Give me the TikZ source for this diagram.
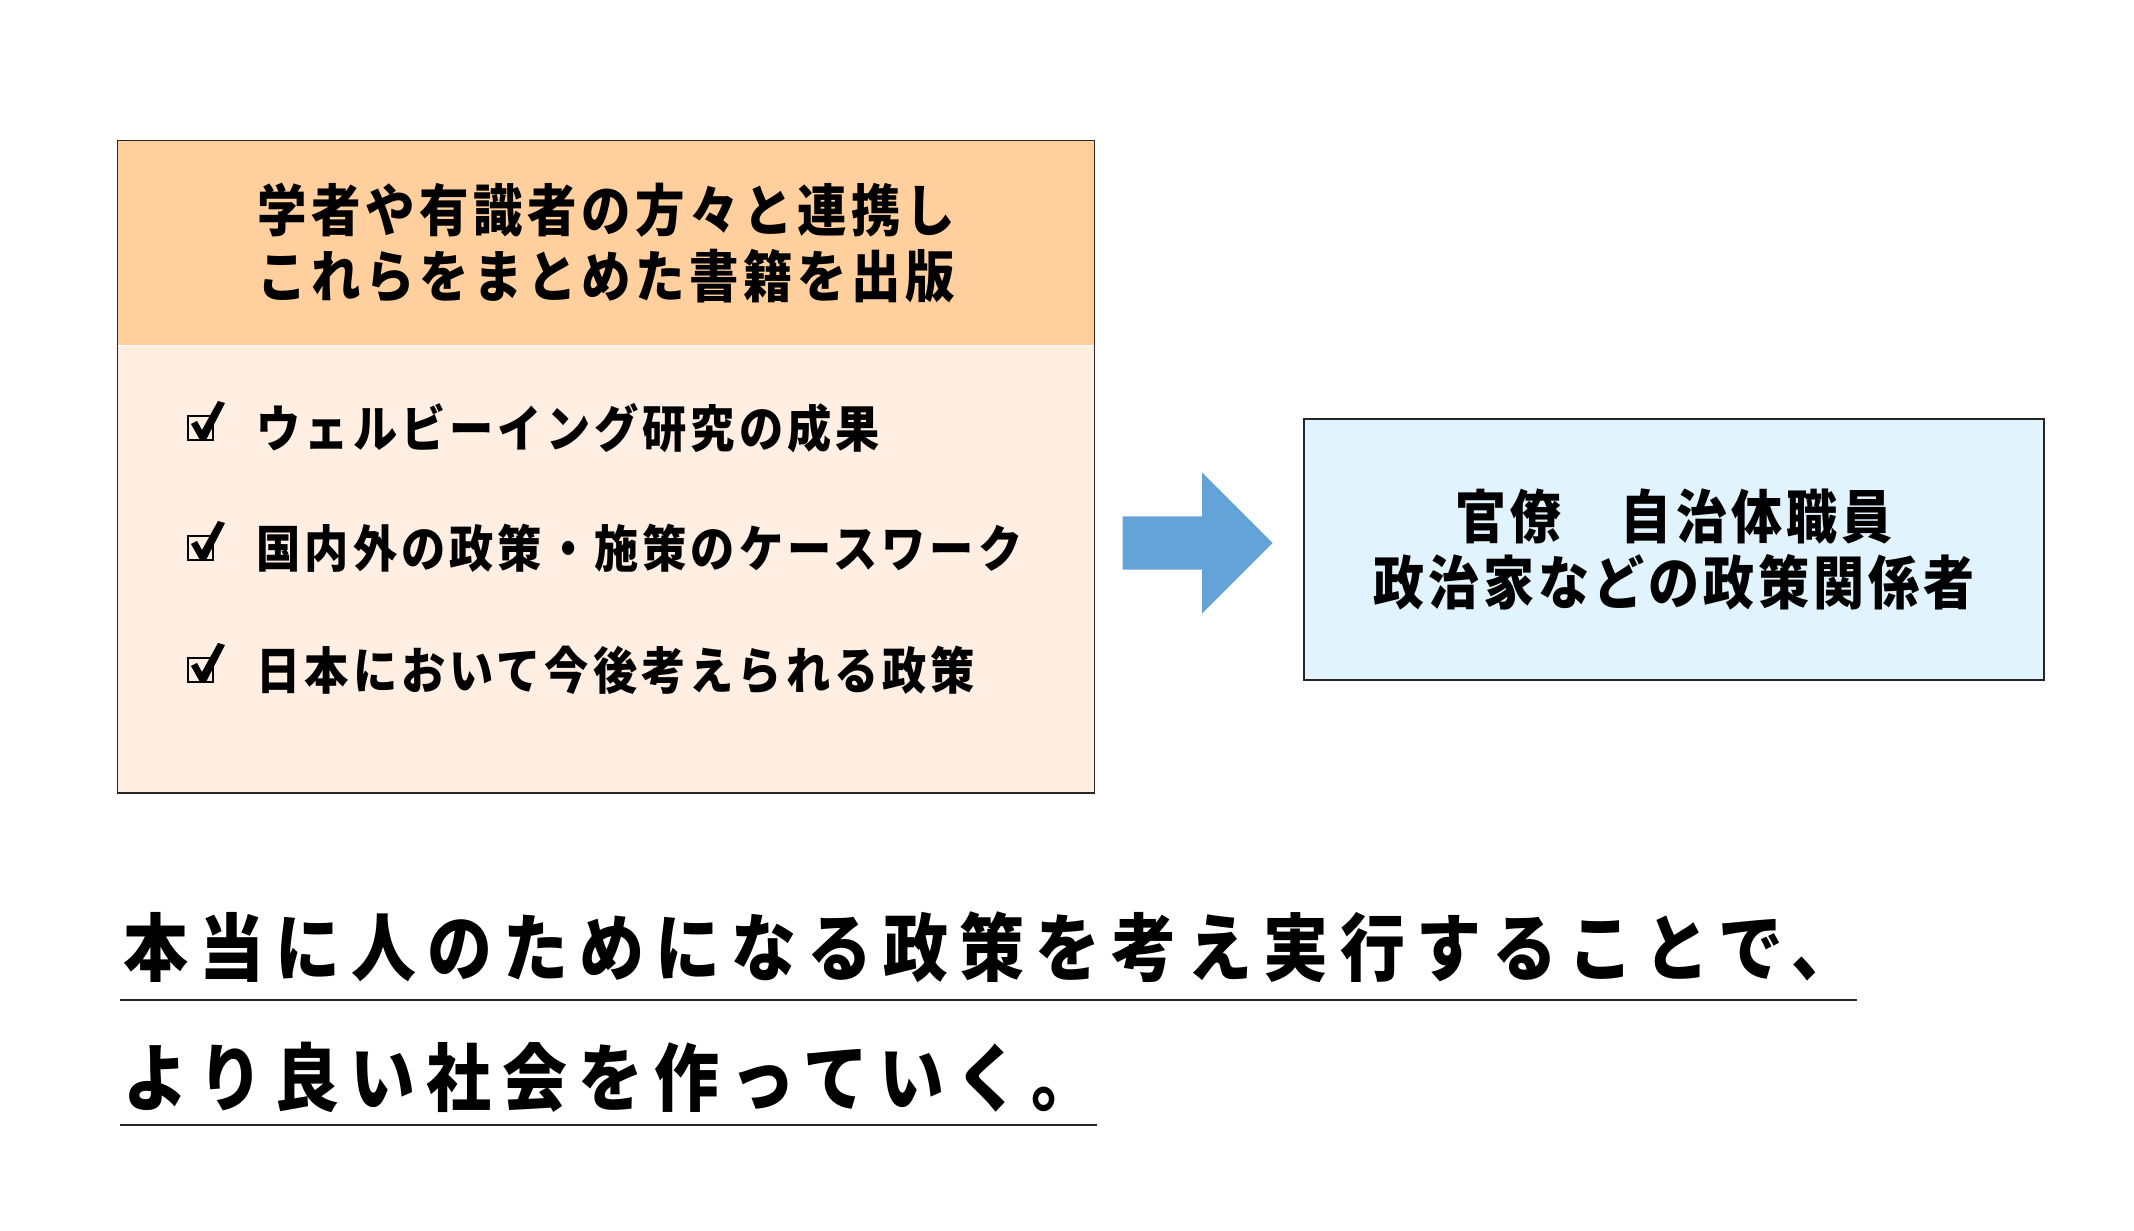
\documentclass[tikz,border=0pt]{standalone}
\usepackage{fontspec}
\newfontfamily\jp{Noto Sans CJK JP}[FakeStretch=0.88]
\usetikzlibrary{positioning,shapes.arrows}

\definecolor{headorange}{HTML}{FFD09E}
\definecolor{bodycream}{HTML}{FFEFE2}
\definecolor{paleblue}{HTML}{E1F3FD}
\definecolor{arrowblue}{HTML}{64A3D7}

\tikzset{
    headbox/.style={fill=headorange, minimum width=9.76cm, minimum height=2.04cm, inner sep=0pt, align=center,
        font=\jp\bfseries\addfontfeature{LetterSpace=8}\fontsize{16pt}{18.8pt}\selectfont},
    bodybox/.style={fill=bodycream, minimum width=9.76cm, minimum height=4.46cm, inner sep=0pt},
    item/.style={anchor=west, inner sep=0pt,
        font=\jp\bfseries\addfontfeature{LetterSpace=8}\fontsize{14.3pt}{16pt}\selectfont},
    stakebox/.style={draw=black!85, fill=paleblue, minimum width=7.40cm, minimum height=2.61cm, align=center,
        font=\jp\bfseries\addfontfeature{LetterSpace=7}\fontsize{16.5pt}{19pt}\selectfont},
    bigarrow/.style={single arrow, fill=arrowblue, anchor=tail, inner xsep=0pt, inner ysep=0.26cm,
        minimum height=1.5cm, single arrow head extend=0.44cm},
    slogan/.style={anchor=west, inner sep=0pt,
        font=\jp\bfseries\addfontfeature{LetterSpace=15}\fontsize{21pt}{24pt}\selectfont},
    uline/.style={line width=0.6pt, black!85},
    checkbox/.pic={
        \draw[line width=0.6pt] (-0.12,-0.12) rectangle (0.13,0.12);
        \fill (-0.09,0.04) -- (-0.03,0.07) -- (0.02,-0.02) -- (0.18,0.27) -- (0.25,0.25) -- (0.06,-0.12) -- (0.00,-0.12) -- cycle;
    }
}

\begin{document}
\begin{tikzpicture}
    \useasboundingbox (0,0) rectangle (21.34,12.30);

    \node[headbox] (head) at (6.06,9.87) {学者や有識者の方々と連携し\\これらをまとめた書籍を出版};
    \node[bodybox, below=0pt of head] (body) {};
    \draw[black!85] (head.north west) rectangle (body.south east);

    \node[item] (wellbeing) at (2.56,8.02) {ウェルビーイング研究の成果};
    \node[item] (casework) at (2.56,6.82) {国内外の政策・施策のケースワーク};
    \node[item] (policy) at (2.56,5.60) {日本において今後考えられる政策};
    \pic at ([xshift=-0.56cm]wellbeing.west) {checkbox};
    \pic at ([xshift=-0.56cm]casework.west) {checkbox};
    \pic at ([xshift=-0.56cm]policy.west) {checkbox};

    \node[bigarrow] (arr) at (11.22,6.87) {};

    \node[stakebox] (stake) at (16.74,6.805) {官僚　自治体職員\\政治家などの政策関係者};

    \node[slogan] (line1) at (1.23,2.83) {本当に人のためになる政策を考え実行することで、};
    \node[slogan] (line2) at (1.23,1.53) {より良い社会を作っていく。};
    \draw[uline] ([xshift=-0.03cm,yshift=-0.53cm]line1.west) -- ([yshift=-0.53cm]line1.east);
    \draw[uline] ([xshift=-0.03cm,yshift=-0.48cm]line2.west) -- ([yshift=-0.48cm]line2.east);
\end{tikzpicture}
\end{document}
